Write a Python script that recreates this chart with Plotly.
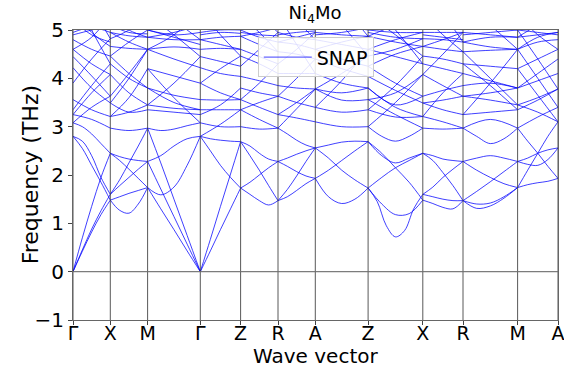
import numpy as np
import plotly.graph_objects as go

# high-symmetry path
labels = ["Γ", "X", "M", "Γ", "Z", "R", "A", "Z", "X", "R", "M", "A"]
kdist = [0.0, 0.373, 0.746, 1.273, 1.676, 2.050, 2.423, 2.951, 3.498, 3.900, 4.446, 4.850]

# phonon branches per path segment (THz), sampled evenly along each segment
seg_G_X = [
    [0, 0.42, 0.82, 1.18, 1.48],
    [0, 0.45, 0.88, 1.26, 1.60],
    [0, 0.70, 1.35, 1.95, 2.45],
    [2.80, 2.55, 2.20, 1.85, 1.48],
    [2.80, 2.70, 2.40, 1.95, 1.60],
    [3.08, 3.00, 2.85, 2.65, 2.45],
    [3.25, 3.15, 2.97],
    [3.35, 3.85, 4.30],
    [3.56, 3.35, 3.21],
    [3.90, 4.40, 4.82],
    [4.22, 3.80, 3.49],
    [4.45, 4.05, 3.63],
    [4.60, 4.30, 4.08],
    [4.80, 4.60, 4.46],
    [4.95, 5.05, 4.95],
    [5.40, 4.95, 4.66],
    [5.80, 5.00, 4.30],
    [6.20, 5.50, 4.82],
    [4.60, 4.85, 5.30],
    [3.08, 3.40, 3.63],
    [5.20, 4.90, 4.75],
    [4.90, 5.00, 5.10],
    [3.25, 3.70, 4.08],
]
seg_X_M = [
    [1.48, 1.27, 1.21, 1.40, 1.74],
    [1.48, 1.55, 1.62, 1.68, 1.74],
    [1.60, 1.78, 1.95, 2.12, 2.28],
    [1.60, 1.90, 2.25, 2.60, 2.97],
    [2.45, 2.30, 2.12, 1.93, 1.74],
    [2.45, 2.38, 2.33, 2.30, 2.28],
    [2.97, 2.92, 2.97],
    [3.21, 3.60, 4.20],
    [3.49, 3.30, 3.35],
    [3.63, 4.10, 4.60],
    [4.08, 3.70, 3.45],
    [4.30, 4.00, 3.80],
    [4.46, 4.10, 3.80],
    [4.66, 4.62, 4.60],
    [4.82, 5.00, 5.30],
    [4.95, 4.75, 4.60],
    [5.30, 5.00, 4.85],
    [5.60, 5.30, 5.00],
    [4.46, 4.75, 5.00],
    [3.49, 4.00, 4.60],
    [4.95, 4.88, 4.85],
    [5.10, 4.95, 4.92],
    [3.21, 3.30, 3.45],
]
seg_M_G = [
    [1.74, 1.59, 1.75, 2.20, 2.80],
    [1.74, 1.30, 0.87, 0.43, 0],
    [2.28, 1.71, 1.14, 0.57, 0],
    [2.97, 2.25, 1.50, 0.75, 0],
    [2.28, 2.40, 2.60, 2.75, 2.80],
    [2.97, 2.92, 2.95, 3.02, 3.08],
    [3.35, 3.30, 3.25],
    [3.45, 3.90, 4.45],
    [3.80, 3.50, 3.35],
    [3.80, 3.65, 3.56],
    [4.20, 4.05, 3.90],
    [4.60, 4.40, 4.22],
    [4.60, 4.90, 5.40],
    [4.60, 4.65, 4.60],
    [4.85, 4.80, 4.80],
    [5.00, 4.90, 4.95],
    [5.30, 4.90, 4.45],
    [5.60, 5.20, 4.80],
    [4.20, 3.60, 3.08],
    [4.85, 4.95, 5.10],
    [5.00, 4.85, 4.70],
    [3.45, 3.38, 3.35],
]
seg_G_Z = [
    [0, 0.43, 0.87, 1.30, 1.73],
    [0, 0.67, 1.35, 2.02, 2.69],
    [2.80, 2.50, 2.20, 1.95, 1.73],
    [2.80, 2.75, 2.72, 2.70, 2.69],
    [3.08, 3.00, 3.00],
    [3.25, 3.45, 3.80],
    [3.35, 3.35, 3.35],
    [3.56, 3.55, 3.56],
    [3.90, 4.20, 4.46],
    [4.22, 4.10, 4.04],
    [4.45, 4.35, 4.25],
    [4.60, 4.62, 4.60],
    [4.80, 4.85, 4.87],
    [4.95, 5.00, 5.00],
    [5.40, 4.90, 4.46],
    [5.80, 5.40, 5.00],
    [2.80, 3.05, 3.35],
    [4.90, 4.95, 4.93],
    [4.80, 4.70, 4.60],
    [3.90, 3.70, 3.56],
]
seg_Z_R = [
    [1.73, 1.60, 1.47, 1.38, 1.47],
    [1.73, 1.85, 2.00, 2.15, 2.28],
    [2.69, 2.40, 2.10, 1.78, 1.47],
    [2.69, 2.60, 2.45, 2.33, 2.28],
    [3.00, 2.95, 2.97],
    [3.35, 3.15, 2.97],
    [3.56, 3.40, 3.25],
    [3.80, 3.70, 3.63],
    [4.04, 3.95, 3.85],
    [4.25, 4.60, 4.95],
    [4.46, 4.30, 4.10],
    [4.60, 4.45, 4.30],
    [4.87, 4.70, 4.55],
    [5.00, 4.85, 4.75],
    [5.30, 4.95, 4.55],
    [3.56, 3.90, 4.30],
    [5.60, 5.30, 4.95],
    [4.87, 4.95, 5.05],
    [4.95, 4.90, 4.88],
    [3.35, 3.50, 3.63],
]
seg_R_A = [
    [1.47, 1.55, 1.68, 1.82, 1.93],
    [1.47, 1.70, 1.98, 2.28, 2.56],
    [2.28, 2.18, 2.07, 1.98, 1.93],
    [2.28, 2.35, 2.43, 2.50, 2.56],
    [2.97, 2.85, 2.72, 2.62, 2.56],
    [2.97, 3.17, 3.37, 3.57, 3.78],
    [3.25, 3.18, 3.10],
    [3.63, 3.50, 3.40],
    [3.85, 3.80, 3.78],
    [4.10, 4.10, 4.10],
    [4.30, 4.60, 4.95],
    [4.55, 4.50, 4.40],
    [4.75, 4.70, 4.60],
    [4.95, 4.85, 4.80],
    [5.30, 4.70, 4.10],
    [3.63, 4.00, 4.40],
    [5.60, 5.20, 4.80],
    [4.90, 4.95, 4.98],
    [4.75, 4.85, 4.95],
    [3.25, 3.50, 3.78],
]
seg_A_Z = [
    [1.93, 1.55, 1.41, 1.50, 1.73],
    [1.93, 2.10, 2.30, 2.50, 2.69],
    [2.56, 2.35, 2.10, 1.90, 1.73],
    [2.56, 2.62, 2.68, 2.70, 2.69],
    [3.10, 3.00, 3.00],
    [3.40, 3.30, 3.35],
    [3.78, 3.55, 3.56],
    [3.78, 4.10, 4.46],
    [4.10, 3.90, 3.80],
    [4.40, 4.20, 4.04],
    [4.60, 4.40, 4.25],
    [4.80, 4.70, 4.60],
    [4.95, 4.90, 4.87],
    [5.30, 5.10, 5.00],
    [3.40, 3.95, 4.60],
    [5.60, 5.10, 4.46],
    [6.00, 5.50, 4.87],
    [4.90, 4.95, 5.05],
    [4.60, 4.75, 4.87],
    [3.78, 3.70, 3.80],
]
seg_Z_X = [
    [1.73, 1.45, 0.95, 0.72, 0.85, 1.30, 1.60],
    [1.73, 1.40, 1.18, 1.20, 1.48],
    [1.73, 1.95, 2.15, 2.30, 2.45],
    [2.69, 2.45, 2.15, 1.85, 1.48],
    [2.69, 2.40, 2.25, 2.35, 2.45],
    [3.00, 2.80, 2.70, 2.80, 2.97],
    [3.00, 3.50, 4.08],
    [3.35, 3.85, 4.46],
    [3.56, 3.25, 2.97],
    [3.80, 3.40, 3.21],
    [4.04, 3.75, 3.49],
    [4.25, 3.90, 3.63],
    [4.46, 4.60, 4.82],
    [4.60, 4.45, 4.30],
    [4.87, 4.75, 4.66],
    [5.00, 4.95, 4.95],
    [5.30, 4.90, 4.46],
    [5.60, 5.00, 4.30],
    [4.25, 4.50, 4.66],
    [3.80, 3.45, 3.63],
    [4.87, 5.10, 5.30],
    [3.35, 3.20, 3.21],
    [4.95, 4.85, 4.82],
    [4.60, 4.80, 4.95],
    [3.56, 3.70, 4.08],
]
seg_X_R = [
    [1.48, 1.41, 1.33, 1.30, 1.47],
    [1.60, 1.75, 1.95, 2.12, 2.28],
    [1.60, 1.55, 1.50, 1.47, 1.47],
    [2.45, 2.30, 2.05, 1.78, 1.47],
    [2.45, 2.40, 2.33, 2.30, 2.28],
    [2.97, 2.95, 2.97],
    [3.21, 3.10, 2.97],
    [3.49, 3.35, 3.25],
    [3.63, 3.75, 3.85],
    [4.08, 3.85, 3.63],
    [4.30, 4.20, 4.10],
    [4.46, 4.40, 4.30],
    [4.66, 4.60, 4.55],
    [4.82, 4.80, 4.75],
    [4.95, 4.95, 4.95],
    [3.21, 3.70, 4.10],
    [4.08, 4.50, 4.95],
    [5.30, 4.90, 4.55],
    [5.60, 5.30, 4.75],
    [4.90, 4.85, 4.80],
    [4.66, 4.80, 4.95],
    [3.49, 3.55, 3.63],
]
seg_R_M = [
    [1.47, 1.31, 1.36, 1.52, 1.74],
    [1.47, 1.40, 1.42, 1.55, 1.74],
    [1.47, 1.66, 1.86, 2.07, 2.28],
    [2.28, 2.10, 1.95, 1.82, 1.74],
    [2.28, 2.35, 2.40, 2.35, 2.28],
    [2.97, 2.80, 2.65, 2.75, 2.97],
    [2.97, 3.15, 2.97],
    [3.25, 3.30, 3.35],
    [3.63, 3.55, 3.45],
    [3.85, 3.90, 3.80],
    [4.10, 3.95, 3.80],
    [4.30, 4.25, 4.20],
    [4.55, 4.58, 4.60],
    [4.75, 4.65, 4.60],
    [4.95, 4.90, 4.85],
    [5.30, 5.10, 5.00],
    [3.25, 3.90, 4.60],
    [4.30, 3.85, 3.35],
    [4.55, 4.00, 3.45],
    [5.60, 5.10, 4.60],
    [4.90, 4.95, 5.00],
    [4.75, 4.85, 4.85],
    [3.63, 3.70, 3.80],
]
seg_M_A = [
    [1.74, 1.80, 1.84, 1.87, 1.93],
    [2.97, 2.70, 2.45, 2.18, 1.93],
    [2.28, 2.22, 2.20, 2.32, 2.56],
    [1.74, 2.10, 2.45, 2.80, 3.10],
    [2.28, 2.35, 2.45, 2.52, 2.56],
    [2.97, 3.20, 3.40],
    [3.35, 3.55, 3.78],
    [3.45, 3.60, 3.78],
    [3.80, 3.95, 4.10],
    [3.80, 4.10, 4.40],
    [4.20, 4.40, 4.60],
    [4.60, 4.75, 4.80],
    [4.60, 4.85, 4.95],
    [4.85, 5.10, 5.30],
    [4.20, 3.65, 3.10],
    [4.60, 4.00, 3.40],
    [5.00, 4.40, 3.78],
    [5.30, 4.90, 4.60],
    [4.85, 4.90, 4.95],
    [5.00, 4.95, 4.90],
    [3.45, 3.30, 3.10],
]

segments = [seg_G_X, seg_X_M, seg_M_G, seg_G_Z, seg_Z_R, seg_R_A,
            seg_A_Z, seg_Z_X, seg_X_R, seg_R_M, seg_M_A]

# assemble all branches into one trace, separated by gaps
xs, ys = [], []
for i, seg in enumerate(segments):
    k0, k1 = kdist[i], kdist[i + 1]
    for branch in seg:
        xs.extend(np.linspace(k0, k1, len(branch)).tolist())
        ys.extend(branch)
        xs.append(None)
        ys.append(None)

font = "DejaVu Sans"
grid_col = "rgba(60,60,60,0.85)"

fig = go.Figure()
fig.add_trace(go.Scatter(
    x=xs, y=ys, mode="lines", name="SNAP",
    line=dict(color="rgba(0,0,255,0.75)", width=1, shape="spline", smoothing=1.0),
    connectgaps=False,
))

# vertical lines at high-symmetry points and zero-frequency line
for k in kdist:
    fig.add_shape(type="line", x0=k, x1=k, y0=-1, y1=5, xref="x", yref="y",
                  line=dict(color=grid_col, width=1), layer="above")
fig.add_shape(type="line", x0=kdist[0], x1=kdist[-1], y0=0, y1=0, xref="x", yref="y",
              line=dict(color="rgba(110,110,110,0.9)", width=1.3), layer="above")

fig.update_layout(
    width=564, height=367,
    margin=dict(l=73, r=6, t=30, b=47),
    paper_bgcolor="white", plot_bgcolor="white",
    font=dict(family=font, color="black"),
    title=dict(text="Ni<sub>4</sub>Mo", x=315 / 564, xanchor="center",
               y=1 - 13 / 367, yanchor="middle", font=dict(size=18, family=font)),
    showlegend=True,
    legend=dict(x=0.381, y=0.975, xanchor="left", yanchor="top", itemwidth=48,
                bgcolor="rgba(255,255,255,0.85)", bordercolor="rgba(204,204,204,1)",
                borderwidth=1, font=dict(size=19, family=font)),
    xaxis=dict(range=[kdist[0], kdist[-1]], tickmode="array", tickvals=kdist,
               ticktext=labels, tickfont=dict(size=19), ticks="outside", ticklen=4,
               tickcolor="#444", showgrid=False, zeroline=False, automargin=False,
               ticklabelstandoff=-8, ticklabeloverflow="allow",
               showline=True, linecolor="#666", linewidth=1, mirror=True),
    yaxis=dict(range=[-1, 5], tickvals=[-1, 0, 1, 2, 3, 4, 5],
               ticktext=["\u22121", "0", "1", "2", "3", "4", "5"],
               tickfont=dict(size=20), ticks="outside", ticklen=4, tickcolor="#444",
               showgrid=False, zeroline=False, showline=True, linecolor="#666",
               linewidth=1, mirror=True, automargin=False),
    annotations=[
        dict(text="Wave vector", xref="paper", yref="paper", x=0.5, y=-0.123,
             xanchor="center", yanchor="middle", showarrow=False, borderpad=0,
             font=dict(size=20, family=font)),
        dict(text="Frequency (THz)", xref="paper", yref="paper", x=-0.088, y=0.5,
             xanchor="center", yanchor="middle", textangle=-90, showarrow=False,
             font=dict(size=22, family=font)),
    ],
)

fig.write_html("out.html")
